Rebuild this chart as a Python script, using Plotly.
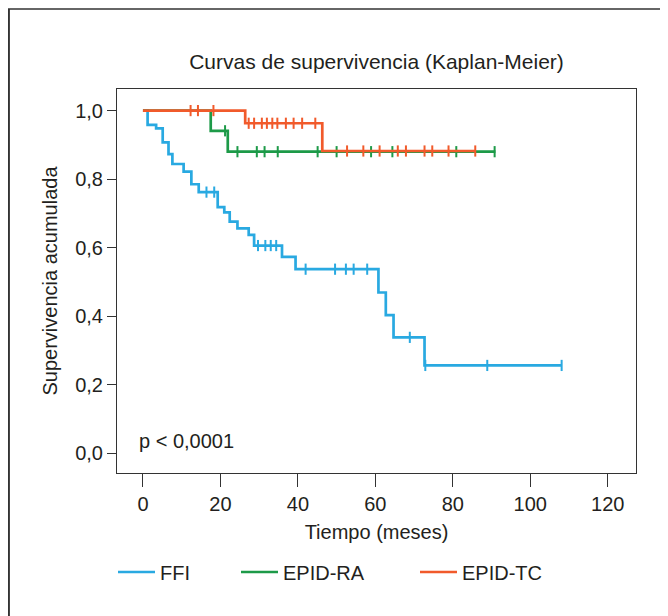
import numpy as np
import plotly.graph_objects as go

# ---- data ----
ffi_t = [0, 1.2, 3.4, 5.1, 6.6, 7.6, 10.5, 12.5, 14.4, 19.3, 21.0, 22.4, 24.4, 27.3, 28.7, 35.9, 39.4, 60.8, 62.7, 64.7, 72.7]
ffi_s = [1.0, 0.958, 0.948, 0.907, 0.873, 0.844, 0.822, 0.785, 0.762, 0.718, 0.703, 0.676, 0.656, 0.637, 0.606, 0.573, 0.537, 0.469, 0.403, 0.338, 0.256]
ffi_end = 108.1
ffi_cens = [16.4, 18.4, 29.7, 31.6, 33.0, 34.4, 42.0, 49.6, 52.4, 54.4, 57.9, 68.9, 72.9, 88.9, 108.1]

ra_t = [0, 17.5, 21.9]
ra_s = [1.0, 0.941, 0.880]
ra_end = 91.0
ra_cens = [21.2, 24.4, 29.4, 31.4, 34.8, 45.1, 50.0, 58.9, 64.4, 80.9, 90.8]

tc_t = [0, 26.4, 46.3]
tc_s = [1.0, 0.963, 0.882]
tc_end = 85.8
tc_cens = [12.3, 14.2, 18.2, 27.3, 28.7, 30.7, 32.0, 33.4, 34.7, 36.9, 38.9, 41.1, 44.5,
           52.7, 56.9, 61.1, 65.8, 67.9, 72.7, 74.7, 78.9, 85.8]

series_names = ["FFI", "EPID-RA", "EPID-TC"]
series_colors = ["#29A9E1", "#1D9A48", "#F15A2B"]

x_ticks = [0, 20, 40, 60, 80, 100, 120]
y_ticks = [0.0, 0.2, 0.4, 0.6, 0.8, 1.0]

FONT = "Liberation Sans, Arial, Helvetica, sans-serif"
TXT = "#231F20"
FS = 20

fig = go.Figure()

groups = [(ffi_t, ffi_s, ffi_end, ffi_cens), (ra_t, ra_s, ra_end, ra_cens), (tc_t, tc_s, tc_end, tc_cens)]
legends = ["legend", "legend2", "legend3"]
for (t, s, end, cens), name, col, lg in zip(groups, series_names, series_colors, legends):
    xs = list(t) + [end]
    ys = list(s) + [s[-1]]
    fig.add_trace(go.Scatter(x=xs, y=ys, mode="lines", line=dict(color=col, width=2.7, shape="hv"),
                             name=name, legend=lg, showlegend=True))
    idx = np.searchsorted(np.array(t), np.array(cens), side="right") - 1
    cy = [s[i] for i in idx]
    fig.add_trace(go.Scatter(x=cens, y=cy, mode="markers", showlegend=False,
                             marker=dict(symbol="line-ns-open", size=8, color=col,
                                         line=dict(color=col, width=2))))

# page body has an 8px margin: work in figure pixels = screen pixels - 8
OFF = 8
W, H = 668, 616
L, T = 117 - OFF, 89 - OFF
R = W - (636 - OFF)
B = H - (473 - OFF)
pw = W - L - R
ph = H - T - B

def sx(px):
    return (px - OFF - L) / pw

def sy(py):
    return (H - B - (py - OFF)) / ph

leg_common = dict(orientation="h", xanchor="left", yanchor="middle", itemwidth=37,
                  font=dict(size=FS, color=TXT), bgcolor="rgba(0,0,0,0)")

fig.update_layout(
    width=W, height=H, autosize=False,
    margin=dict(l=L, r=R, t=T, b=B),
    paper_bgcolor="white", plot_bgcolor="white",
    separators=", ",
    font=dict(family=FONT, size=FS, color=TXT),
    title=dict(text="Curvas de supervivencia (Kaplan-Meier)", x=0.5, xref="paper",
               y=1 - (62 - OFF) / H, yref="container", xanchor="center", yanchor="middle",
               font=dict(size=21, family=FONT, color=TXT)),
    xaxis=dict(range=[-6.7, 127.3], tickvals=x_ticks, ticks="outside", ticklen=13, tickwidth=1,
               tickcolor="#333", showline=True, linecolor="#333", linewidth=1, mirror=True,
               showgrid=False, zeroline=False, tickfont=dict(size=FS),
               title=dict(text="Tiempo (meses)", standoff=10, font=dict(size=FS))),
    yaxis=dict(range=[-0.058, 1.063], tickvals=y_ticks, tickformat=".1f", ticks="outside", ticklen=9,
               tickwidth=1, tickcolor="#333", showline=True, linecolor="#333", linewidth=1, mirror=True,
               showgrid=False, zeroline=False, tickfont=dict(size=FS),
               title=dict(text="Supervivencia acumulada", standoff=12, font=dict(size=FS))),
    legend=dict(x=sx(113), y=sy(572), **leg_common),
    legend2=dict(x=sx(236), y=sy(572), **leg_common),
    legend3=dict(x=sx(415), y=sy(572), **leg_common),
    annotations=[dict(text="p < 0,0001", x=-1.5, y=0.035, xref="x", yref="y", xanchor="left",
                      yanchor="middle", showarrow=False, font=dict(size=FS, color=TXT))],
    shapes=[
        dict(type="line", xref="paper", yref="paper", x0=sx(6), x1=sx(662),
             y0=sy(9), y1=sy(9), line=dict(color="#333", width=1.5)),
        dict(type="line", xref="paper", yref="paper", x0=(0.9 - L) / pw, x1=(0.9 - L) / pw,
             y0=sy(9), y1=sy(630), line=dict(color="#333", width=2)),
        dict(type="line", xref="paper", yref="paper", x0=sx(662), x1=sx(662),
             y0=sy(9), y1=sy(540), line=dict(color="#333", width=1.5)),
    ],
)

fig.write_html("out.html")
